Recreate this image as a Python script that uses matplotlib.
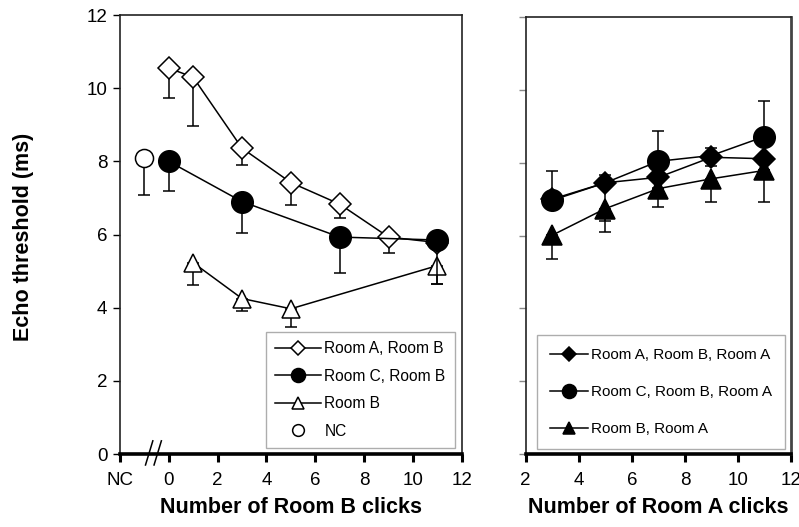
import matplotlib
matplotlib.use("Agg")
import matplotlib.pyplot as plt
import matplotlib.transforms as mtransforms
import numpy as np

plt.rcParams['font.family'] = ['Liberation Sans', 'DejaVu Sans']

# ---------------- Data: left panel (Number of Room B clicks) ----------------
ab_x = [0, 1, 3, 5, 7, 9, 11]
ab_y = [10.55, 10.3, 8.36, 7.42, 6.83, 5.93, 5.78]
ab_err = [0.82, 1.34, 0.46, 0.62, 0.39, 0.44, 0.15]

cb_x = [0, 3, 7, 11]
cb_y = [8.0, 6.9, 5.93, 5.85]
cb_err = [0.8, 0.86, 0.99, 1.19]

b_x = [1, 3, 5, 11]
b_y = [5.23, 4.25, 3.97, 5.15]
b_err = [0.61, 0.33, 0.5, 0.49]

nc_x = [-1]
nc_y = [8.1]
nc_err = [1.02]

left_ticks = [-2, 0, 2, 4, 6, 8, 10, 12]
left_ticklabels = ['NC', '0', '2', '4', '6', '8', '10', '12']

# ---------------- Data: right panel (Number of Room A clicks) ---------------
r_x = [3, 5, 7, 9, 11]
aba_y = [7.0, 7.45, 7.6, 8.15, 8.11]
aba_err = [0.25, 1.05, 0.3, 0.25, 0.3]
cba_y = [6.97, 7.45, 8.04, 8.2, 8.72]
cba_err = [0.8, 0.2, 0.84, 0.2, 0.98]
cba_marked = [0, 2, 4]          # circle markers visible only at these points
ba_y = [6.01, 6.74, 7.29, 7.56, 7.79]
ba_err = [0.64, 0.64, 0.51, 0.65, 0.88]

right_ticks = [2, 4, 6, 8, 10, 12]
y_ticks = [0, 2, 4, 6, 8, 10, 12]

fig = plt.figure(figsize=(7.99, 5.27), dpi=100)
axL = fig.add_axes([0.150, 0.1385, 0.428, 0.833])
axR = fig.add_axes([0.658, 0.1385, 0.332, 0.829])

lw = 1.1
ekw = dict(ecolor='black', elinewidth=lw, capsize=4, capthick=lw)

def eb(ax, x, y, err, up, marker, ms, mfc, label, z, line=True, markevery=None):
    zeros = [0] * len(err)
    yerr = [zeros, err] if up else [err, zeros]
    ax.errorbar(x, y, yerr=yerr, fmt='none', zorder=z - 0.5, **ekw)
    ax.plot(x, y, linestyle='-' if line else 'none', color='black', lw=lw,
            marker=marker, ms=ms, mfc=mfc, mec='black', mew=1.1,
            label=label, zorder=z, markevery=markevery)

# Left panel
eb(axL, b_x, b_y, b_err, False, '^', 13, 'white', 'Room B', 3)
eb(axL, ab_x, ab_y, ab_err, False, 'D', 11.5, 'white', 'Room A, Room B', 4)
eb(axL, cb_x, cb_y, cb_err, False, 'o', 15.5, 'black', 'Room C, Room B', 5)
eb(axL, nc_x, nc_y, nc_err, False, 'o', 13, 'white', 'NC', 5, line=False)

axL.set_xlim(-2, 12)
axL.set_ylim(0, 12)
axL.set_xticks(left_ticks)
axL.set_xticklabels(left_ticklabels)
axL.set_yticks(y_ticks)

# Right panel
eb(axR, r_x, ba_y, ba_err, False, '^', 14, 'black', 'Room B, Room A', 3)
eb(axR, r_x, aba_y, aba_err, False, 'D', 11.5, 'black', 'Room A, Room B, Room A', 4)
eb(axR, r_x, cba_y, cba_err, True, 'o', 15.5, 'black', 'Room C, Room B, Room A', 5,
   markevery=cba_marked)

axR.set_xlim(2, 12)
axR.set_ylim(0, 12)
axR.set_xticks(right_ticks)
axR.set_yticks(y_ticks)
axR.set_yticklabels([])

for ax in (axL, axR):
    for s in ('top', 'right', 'left'):
        ax.spines[s].set_linewidth(1.2)
        ax.spines[s].set_color('#222222')
    ax.spines['bottom'].set_linewidth(2.6)
    ax.spines['bottom'].set_color('black')
    ax.tick_params(axis='x', direction='out', length=6, width=2.2,
                   labelsize=13.5, pad=7)
    ax.tick_params(axis='y', direction='out', length=5, width=1,
                   labelsize=13.5, pad=4)
axR.tick_params(axis='y', colors='#888888')
axR.spines['right'].set_linewidth(2)
axR.spines['right'].set_color('#444444')

# Axis break marks on left panel x axis
trans = mtransforms.blended_transform_factory(axL.transData, axL.transAxes)
for dx in (-0.95, -0.6):
    axL.plot([dx, dx + 0.3], [-0.025, 0.03], color='black', lw=1.1,
             transform=trans, clip_on=False, zorder=10)

axL.set_xlabel('Number of Room B clicks', fontsize=15.5, fontweight='bold',
               labelpad=6)
axR.set_xlabel('Number of Room A clicks', fontsize=15.5, fontweight='bold',
               labelpad=6)
fig.text(0.029, 0.55, 'Echo threshold (ms)', rotation=90, fontsize=15.5,
         fontweight='bold', ha='center', va='center')

# Legends
hL, lL = axL.get_legend_handles_labels()
order = ['Room A, Room B', 'Room C, Room B', 'Room B', 'NC']
hL2 = [hL[lL.index(o)] for o in order]
legL = axL.legend(hL2, order, loc='lower right', bbox_to_anchor=(0.98, 0.014),
                  borderaxespad=0, fontsize=11.2, frameon=True, fancybox=False,
                  edgecolor='#999999', markerscale=0.65, handlelength=2.9,
                  handletextpad=0.25, labelspacing=0.8, borderpad=0.6)
legL.get_frame().set_linewidth(1.0)

hR, lR = axR.get_legend_handles_labels()
orderR = ['Room A, Room B, Room A', 'Room C, Room B, Room A', 'Room B, Room A']
hR2 = [hR[lR.index(o)] for o in orderR]
legR = axR.legend(hR2, orderR, loc='lower right', bbox_to_anchor=(0.977, 0.011),
                  borderaxespad=0, fontsize=11.0, frameon=True, fancybox=False,
                  edgecolor='#999999', markerscale=0.65, handlelength=2.5,
                  handletextpad=0.2, labelspacing=1.5, borderpad=0.85)
legR.get_frame().set_linewidth(1.0)
for h in legR.legend_handles:
    h.set_markevery([1])

fig.savefig('out.png', dpi=100)
